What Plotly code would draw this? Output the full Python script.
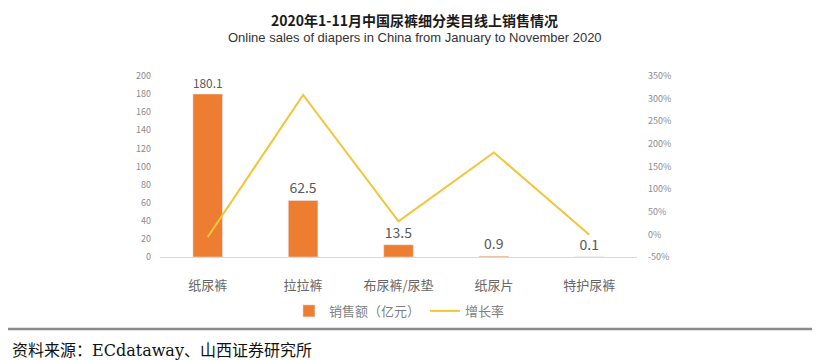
import plotly.graph_objects as go

categories = ["纸尿裤", "拉拉裤", "布尿裤/尿垫", "纸尿片", "特护尿裤"]
sales = [180.1, 62.5, 13.5, 0.9, 0.1]
growth = [-6, 308, 29, 181, -1]
left_ticks = [0, 20, 40, 60, 80, 100, 120, 140, 160, 180, 200]
right_ticks = [-50, 0, 50, 100, 150, 200, 250, 300, 350]
right_labels = [f"{v}%" for v in right_ticks]

BAR = "#ED7D31"
LINE = "#F3C53A"
FONT = "Noto Sans CJK SC, Noto Sans, sans-serif"

fig = go.Figure()
fig.add_trace(go.Bar(
    x=categories, y=sales, name="销售额（亿元）", marker_color=BAR,
    width=0.31, text=[f"{v}" for v in sales], textposition="outside",
    textfont=dict(size=14, color="#595959", family=FONT), cliponaxis=False,
))
fig.add_trace(go.Scatter(
    x=categories, y=growth, name="增长率", mode="lines", yaxis="y2",
    line=dict(color=LINE, width=2),
))

# the page adds an 8px body margin, so the figure is drawn 8px smaller
fig.update_layout(
    width=820, height=352, plot_bgcolor="white", paper_bgcolor="white",
    margin=dict(l=152, r=191, t=68, b=103),
    font=dict(family=FONT, color="#7f7f7f"),
    showlegend=True,
    legend=dict(orientation="h", x=0.502, xanchor="center", y=-0.298, yanchor="middle",
                font=dict(size=13, color="#7f7f7f"), itemwidth=30, tracegroupgap=0,
                bgcolor="rgba(0,0,0,0)"),
    xaxis=dict(type="category", showline=True, linecolor="#d9d9d9", linewidth=1,
               showgrid=False, ticks="", tickfont=dict(size=13, color="#666666"),
               ticklabelstandoff=16),
    yaxis=dict(range=[0, 200], tickvals=left_ticks, showgrid=False, zeroline=False,
               showline=False, ticks="", tickfont=dict(size=9, color="#8c8c8c"),
               ticklabelstandoff=8),
    yaxis2=dict(range=[-50, 350], tickvals=right_ticks, ticktext=right_labels, overlaying="y",
                side="right", showgrid=False, zeroline=False, showline=False, ticks="",
                tickfont=dict(size=9, color="#8c8c8c"), ticklabelstandoff=10),
    annotations=[
        dict(text="<b>2020年1-11月中国尿裤细分类目线上销售情况</b>", x=0.534, y=1.374,
             xref="paper", yref="paper", showarrow=False, xanchor="center", yanchor="top",
             font=dict(size=14, color="#1a1a1a", family=FONT)),
        dict(text="Online sales of diapers in China from January to November 2020", x=0.534, y=1.215,
             xref="paper", yref="paper", showarrow=False, xanchor="center", yanchor="middle",
             font=dict(size=13, color="#333333", family="Liberation Sans Narrow, Liberation Sans, sans-serif")),
        dict(text="资料来源：ECdataway、山西证券研究所", x=-0.314, y=-0.519,
             xref="paper", yref="paper", showarrow=False, xanchor="left", yanchor="middle",
             font=dict(size=16, color="#111111", family="DejaVu Serif, Noto Sans CJK SC, serif")),
    ],
    shapes=[dict(type="line", xref="paper", yref="paper", x0=-0.335, x1=1.367,
                 y0=-0.398, y1=-0.398, line=dict(color="#8a8a8a", width=2.5))],
)

fig.write_html("out.html")
